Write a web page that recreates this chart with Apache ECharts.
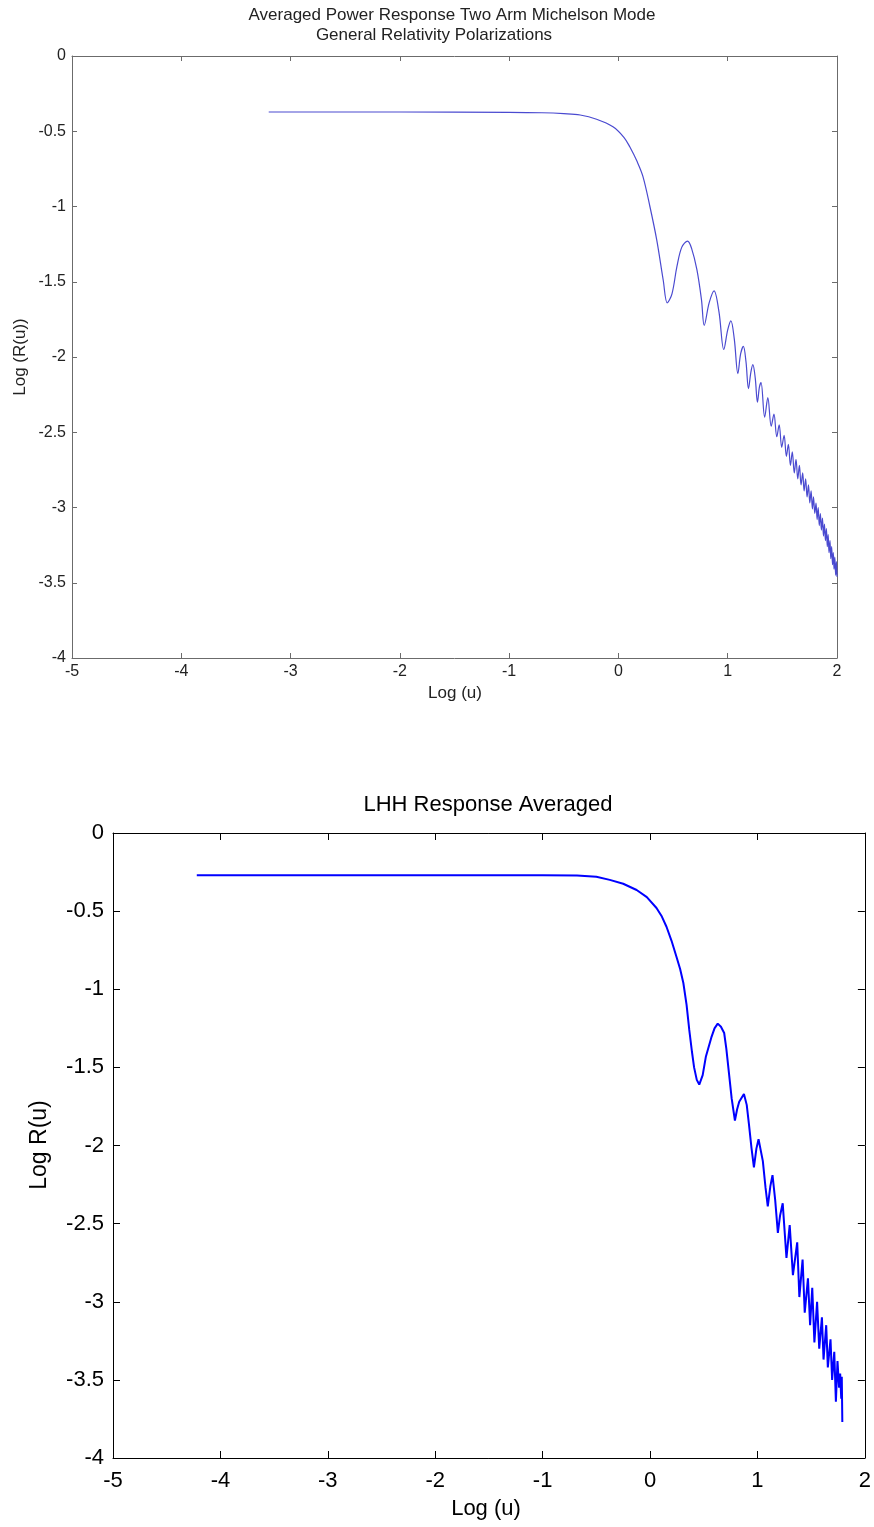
<!DOCTYPE html>
<html>
<head>
<meta charset="utf-8">
<script src="https://cdn.jsdelivr.net/npm/echarts@6/dist/echarts.min.js"></script>
<style>
html,body{margin:0;padding:0;background:#fff;}
#c{width:874px;height:1527px;}
</style>
</head>
<body>
<div id="c"></div>
<script>
// ---- Data: top chart (Averaged Power Response, Two Arm Michelson Mode) ----
const topX = [-3.2,-2.0,-1.0,-0.7,-0.5,-0.35,-0.2,-0.05,0.05,0.105,0.17,0.224,0.288,0.35,0.41,0.447,0.49,0.535,0.58,0.633,0.67,0.718,0.76,0.785,0.83,0.875,0.92,0.964,1.0,1.029,1.06,1.093,1.118,1.143,1.167,1.19,1.212,1.23,1.252,1.272,1.29,1.305,1.338,1.367,
  1.398,1.423,1.449,1.471,1.494,1.516,1.537,1.555,1.574,1.591,1.609,1.625,1.641,1.656,1.671,1.686,1.699,1.713,1.726,1.739,1.751,1.763,1.775,1.785,1.797,1.808,1.818,1.828,1.838,1.848,1.857,1.867,1.876,1.885,1.894,1.903,1.911,1.919,1.927,1.936,1.943,1.951,1.959,1.966,1.973,1.980,1.988,1.995,2.0];
const topY = [-0.372,-0.372,-0.374,-0.377,-0.383,-0.392,-0.42,-0.47,-0.54,-0.605,-0.70,-0.80,-1.00,-1.22,-1.49,-1.64,-1.58,-1.40,-1.27,-1.23,-1.28,-1.42,-1.62,-1.79,-1.64,-1.56,-1.70,-1.95,-1.82,-1.76,-1.88,-2.11,-1.98,-1.93,-2.03,-2.21,-2.10,-2.05,-2.14,-2.30,-2.20,-2.17,-2.40,-2.27,
  -2.46,-2.38,-2.53,-2.45,-2.60,-2.52,-2.66,-2.58,-2.72,-2.63,-2.77,-2.68,-2.81,-2.72,-2.85,-2.77,-2.89,-2.81,-2.93,-2.85,-2.97,-2.89,-3.01,-2.93,-3.04,-2.97,-3.08,-3.00,-3.12,-3.04,-3.15,-3.07,-3.19,-3.11,-3.22,-3.14,-3.26,-3.18,-3.30,-3.22,-3.34,-3.26,-3.38,-3.30,-3.41,-3.33,-3.45,-3.36,-3.46];

// ---- Data: bottom chart (LHH Response Averaged) ----
const botX = [-4.22,-2.0,-1.0,-0.68,-0.5,-0.375,-0.25,-0.125,-0.03,0.06,0.11,0.153,0.2,0.245,0.28,0.31,0.34,0.365,0.39,0.41,0.435,0.458,0.49,0.52,0.57,0.6,0.63,0.66,0.69,0.71,0.735,0.76,0.79,0.81,0.83,0.874,0.90,0.92,0.945,0.967,0.99,1.01,1.05,1.075,1.096,1.12,1.14,1.165,1.19,1.21,1.235,1.27,1.30,1.33,1.37,1.39,1.42,1.44,1.47,1.49,1.51,1.53,1.555,1.575,1.60,1.615,1.64,1.655,1.68,1.695,1.715,1.73,1.745,1.76,1.77,1.78,1.785,1.79];
const botY = [-0.27,-0.27,-0.27,-0.272,-0.28,-0.30,-0.325,-0.365,-0.41,-0.48,-0.535,-0.60,-0.69,-0.79,-0.87,-0.96,-1.10,-1.26,-1.40,-1.50,-1.58,-1.61,-1.55,-1.43,-1.31,-1.25,-1.22,-1.24,-1.28,-1.38,-1.54,-1.70,-1.84,-1.77,-1.72,-1.67,-1.74,-1.86,-2.02,-2.14,-2.02,-1.96,-2.10,-2.27,-2.39,-2.26,-2.19,-2.35,-2.56,-2.45,-2.37,-2.72,-2.51,-2.83,-2.62,-2.97,-2.73,-3.07,-2.85,-3.15,-2.91,-3.26,-3.00,-3.30,-3.10,-3.37,-3.15,-3.42,-3.24,-3.50,-3.32,-3.64,-3.38,-3.55,-3.46,-3.62,-3.48,-3.77];

const xTicksMin = -5, xTicksMax = 2, xInterval = 1;
const yTicksMin = -4, yTicksMax = 0, yInterval = 0.5;

const FONT = '"Liberation Sans",Arial,sans-serif';

function pairs(xs, ys){ return xs.map((x,i)=>[x, ys[i]]); }

function axisDef(gridIndex, color, textColor, fs, tickLen, showLabels, pos, margin){
  const isX = (pos==='bottom'||pos==='top');
  return {
    type:'value', gridIndex:gridIndex, position:pos,
    min: isX ? xTicksMin : yTicksMin,
    max: isX ? xTicksMax : yTicksMax,
    interval: isX ? xInterval : yInterval,
    axisLine:{show:true, onZero:false, lineStyle:{color:color, width:1}},
    axisTick:{show:true, inside:true, length:tickLen, lineStyle:{color:color}},
    axisLabel:{show:showLabels, color:textColor, fontFamily:FONT, fontSize:fs, margin:margin},
    splitLine:{show:false}
  };
}

const chart = echarts.init(document.getElementById('c'), null, {renderer:'canvas'});
const option = {
  backgroundColor:'#ffffff',
  animation:false,
  grid:[
    {left:72, top:56, width:765, height:602, show:false},
    {left:113, top:833, width:757, height:625, show:false}
  ],
  xAxis:[
    axisDef(0,'#6b6b6b','#222',16,5,true,'bottom',6),
    axisDef(0,'#6b6b6b','#222',16,5,false,'top',6),
    axisDef(1,'#000000','#000',22,7,true,'bottom',12),
    axisDef(1,'#000000','#000',22,7,false,'top',12)
  ],
  yAxis:[
    axisDef(0,'#6b6b6b','#222',16,5,true,'left',6),
    axisDef(0,'#6b6b6b','#222',16,5,false,'right',6),
    axisDef(1,'#000000','#000',22,7,true,'left',9),
    axisDef(1,'#000000','#000',22,7,false,'right',9)
  ],
  series:[
    {type:'line', xAxisIndex:0, yAxisIndex:0, data:pairs(topX, topY), showSymbol:false, smooth:0.35,
     lineStyle:{color:'#4a4ad0', width:1.2}},
    {type:'line', xAxisIndex:2, yAxisIndex:2, data:pairs(botX, botY), showSymbol:false, smooth:false,
     lineStyle:{color:'#0000ff', width:2}}
  ],
  graphic:[
    {type:'text', x:452, y:7, style:{text:'Averaged Power Response Two Arm Michelson Mode', font:'17px '+FONT, fill:'#222', textAlign:'center'}},
    {type:'text', x:434, y:27, style:{text:'General Relativity Polarizations', font:'17px '+FONT, fill:'#222', textAlign:'center'}},
    {type:'text', x:455, y:685, style:{text:'Log (u)', font:'17px '+FONT, fill:'#222', textAlign:'center'}},
    {type:'text', x:20, y:357, rotation:Math.PI/2, style:{text:'Log (R(u))', font:'17px '+FONT, fill:'#222', textAlign:'center', textVerticalAlign:'middle'}},
    {type:'text', x:488, y:794, style:{text:'LHH Response Averaged', font:'22px '+FONT, fill:'#000', textAlign:'center'}},
    {type:'text', x:486, y:1498, style:{text:'Log (u)', font:'22px '+FONT, fill:'#000', textAlign:'center'}},
    {type:'text', x:40, y:1145, rotation:Math.PI/2, style:{text:'Log R(u)', font:'23px '+FONT, fill:'#000', textAlign:'center', textVerticalAlign:'middle'}}
  ]
};
chart.setOption(option);
</script>
</body>
</html>
